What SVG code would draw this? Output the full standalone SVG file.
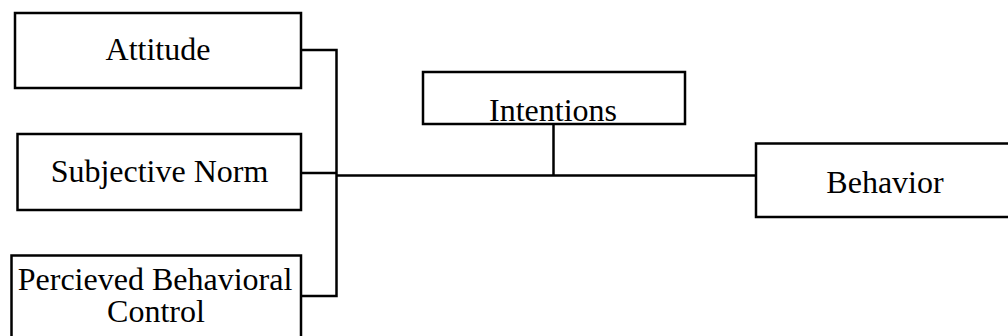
<svg xmlns="http://www.w3.org/2000/svg" width="1008" height="336" viewBox="0 0 1008 336">
<style>
.box{fill:#fff;stroke:#000;stroke-width:2.5}
.lbl{font-family:"Liberation Serif","Times New Roman",serif;font-size:32px;fill:#000;text-anchor:middle}
.conn{fill:none;stroke:#000;stroke-width:2.5}
</style>
<rect width="1008" height="336" fill="#fff"/>
<g id="connectors">
<polyline class="conn" points="301,50 336.5,50 336.5,296 301,296"/>
<line class="conn" x1="301" y1="173" x2="336.5" y2="173"/>
<line class="conn" x1="336.5" y1="175.5" x2="756" y2="175.5"/>
<line class="conn" x1="553.5" y1="124" x2="553.5" y2="175.5"/>
</g>
<g id="attitude">
<rect class="box" x="15" y="13" width="286" height="75"/>
<text class="lbl" x="158" y="60">Attitude</text>
</g>
<g id="subjective-norm">
<rect class="box" x="17.5" y="134" width="283.5" height="76"/>
<text class="lbl" x="159.5" y="182">Subjective Norm</text>
</g>
<g id="perceived-behavioral-control">
<rect class="box" x="11.5" y="255.5" width="289.5" height="90"/>
<text class="lbl" x="155" y="290">Percieved Behavioral</text>
<text class="lbl" x="156" y="322">Control</text>
</g>
<g id="intentions">
<rect class="box" x="423" y="72" width="262" height="52"/>
<text class="lbl" x="553" y="121">Intentions</text>
</g>
<g id="behavior">
<rect class="box" x="756" y="143.5" width="260" height="73.5"/>
<text class="lbl" x="885" y="193">Behavior</text>
</g>
</svg>
